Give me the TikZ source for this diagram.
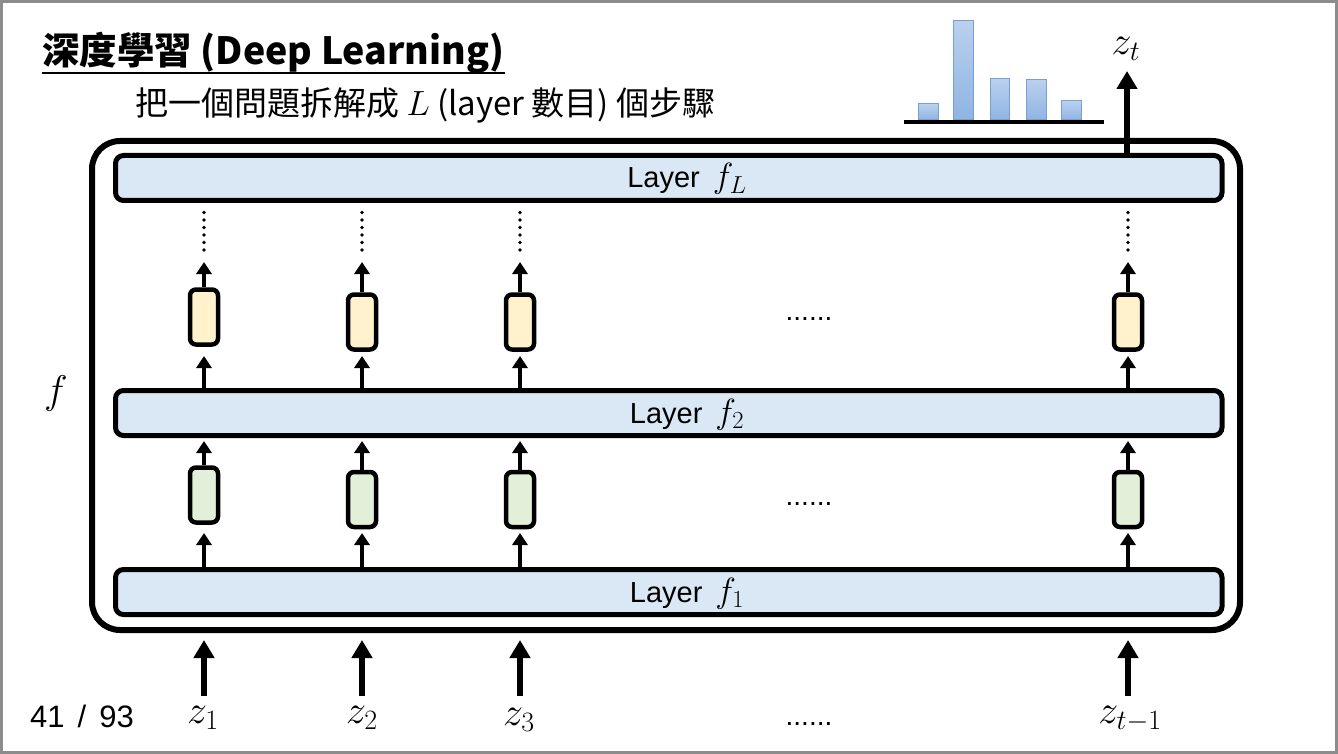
\RequirePackage{fix-cm}
\documentclass[tikz,border=0pt]{standalone}
\usepackage{fontspec}
\setmainfont{Liberation Sans}
\newfontfamily\cjk{Noto Sans CJK TC}
\usetikzlibrary{arrows.meta}
\definecolor{layerblue}{RGB}{218,232,246}
\definecolor{cellyellow}{RGB}{255,242,204}
\definecolor{cellgreen}{RGB}{226,240,217}
\definecolor{bartop}{RGB}{186,208,238}
\definecolor{barbot}{RGB}{143,180,227}
\definecolor{baredge}{RGB}{120,158,210}
\definecolor{framegray}{RGB}{140,140,140}
\newcommand{\lmath}[1]{{\fontsize{35}{40}\selectfont$#1$}}
\begin{document}
\begin{tikzpicture}[x=1pt,y=-1pt,
  layer/.style={draw, line width=5pt, rounded corners=8pt, fill=layerblue,
    minimum width=1106.5pt, minimum height=45pt, inner sep=0pt},
  ltext/.style={anchor=base, inner sep=0pt, font=\fontsize{29}{34}\selectfont},
  cell/.style={draw, line width=4.5pt, rounded corners=6pt,
    minimum width=28pt, minimum height=55pt, inner sep=0pt},
  sarr/.style={line width=4pt, -{Triangle[width=15pt,length=12pt]}},
  barr/.style={line width=6pt, -{Triangle[width=20pt,length=18pt]}},
  dotline/.style={line width=3.6pt, line cap=round, dash pattern=on 0pt off 7.5pt},
  mth/.style={anchor=base, inner sep=0pt, font=\fontsize{40}{46}\selectfont},
  ell/.style={anchor=base, inner sep=0pt, font=\fontsize{28}{32}\selectfont},
  bar/.style={draw=baredge, line width=1pt, top color=bartop, bottom color=barbot},
]
\useasboundingbox (0,0) rectangle (1338,754);
\draw[framegray, line width=3pt] (1.5,1.5) rectangle (1336.5,752.5);

% title and subtitle
\node[anchor=base west, inner sep=0pt, font=\cjk\bfseries\fontsize{37.5}{42}\selectfont] (title) at (42,65) {深度學習 (Deep Learning)};
\draw[line width=2.5pt] ([yshift=-8pt]title.base west) -- ([yshift=-8pt]title.base east);
\node[anchor=base west, inner sep=0pt, font=\cjk\fontsize{33}{38}\selectfont] (sub) at (135,116) {把一個問題拆解成 \lmath{L} (layer 數目) 個步驟};

% histogram
\path[bar] (918,104) rectangle (938,120);
\path[bar] (953,21) rectangle (973,120);
\path[bar] (990,79) rectangle (1009,120);
\path[bar] (1026,80) rectangle (1046,120);
\path[bar] (1061,101) rectangle (1081,120);
\draw[line width=4pt] (904,122.5) -- (1104,122.5);

% outer frame
\node[draw, line width=6pt, rounded corners=28pt, minimum width=1148pt, minimum height=489pt, inner sep=0pt] (outer) at (666,385.5) {};

% layers
\node[layer] (LL) at (668.75,178) {};
\node[layer] (L2) at (668.75,413) {};
\node[layer] (L1) at (668.75,592) {};
\node[ltext] (LLt) at (687,188) {Layer\hspace{0.45em}\lmath{f_L}};
\node[ltext] (L2t) at (687,423) {Layer\hspace{0.45em}\lmath{f_2}};
\node[ltext] (L1t) at (687,602) {Layer\hspace{0.45em}\lmath{f_1}};

% columns
\foreach \i/\x/\yy/\yg in {1/204/317/495,2/362/322/499.5,3/520/322/499.5,4/1128/322/499.5}{
  \node[cell, fill=cellyellow] (Y\i) at (\x,\yy) {};
  \node[cell, fill=cellgreen] (G\i) at (\x,\yg) {};
  \coordinate (gtip\i) at (\x,533);
  \coordinate (ytip\i) at (\x,356);
  \coordinate (atip\i) at (\x,262);
  \coordinate (dbot\i) at (\x,250);
  \coordinate (dtop\i) at (\x,205);
  \coordinate (in\i) at (\x,696);
  \draw[sarr] (L1.north -| G\i) -- (gtip\i);
  \draw[sarr, shorten >=3pt] (G\i.north) -- (L2.south -| G\i);
  \draw[sarr] (L2.north -| Y\i) -- (ytip\i);
  \draw[sarr] (Y\i.north) -- (atip\i);
  \draw[dotline] (dbot\i) -- (dtop\i);
  \draw[barr, shorten >=7pt] (in\i) -- (in\i |- outer.south);
}

% output arrow
\coordinate (zttip) at (1127,71);
\draw[barr] (LL.north -| zttip) -- (zttip);
\node[mth] (zt) at (1126,55) {$z_t$};

% input labels
\node[mth] (z1) at (203,723) {$z_1$};
\node[mth] (z2) at (362,723) {$z_2$};
\node[mth] (z3) at (519,725) {$z_3$};
\node[mth] (zt1) at (1130,723) {$z_{t-1}$};

% ellipses
\node[ell] (e1) at (809,320) {......};
\node[ell] (e2) at (809,505) {......};
\node[ell] (e3) at (809,725) {......};

% f and page number
\node[mth, anchor=center] (f) at (56,393) {$f$};
\node[anchor=base west, inner sep=0pt, font=\fontsize{31}{36}\selectfont] (page) at (30,727) {41\hspace{0.42em}/\hspace{0.42em}93};
\end{tikzpicture}
\end{document}
